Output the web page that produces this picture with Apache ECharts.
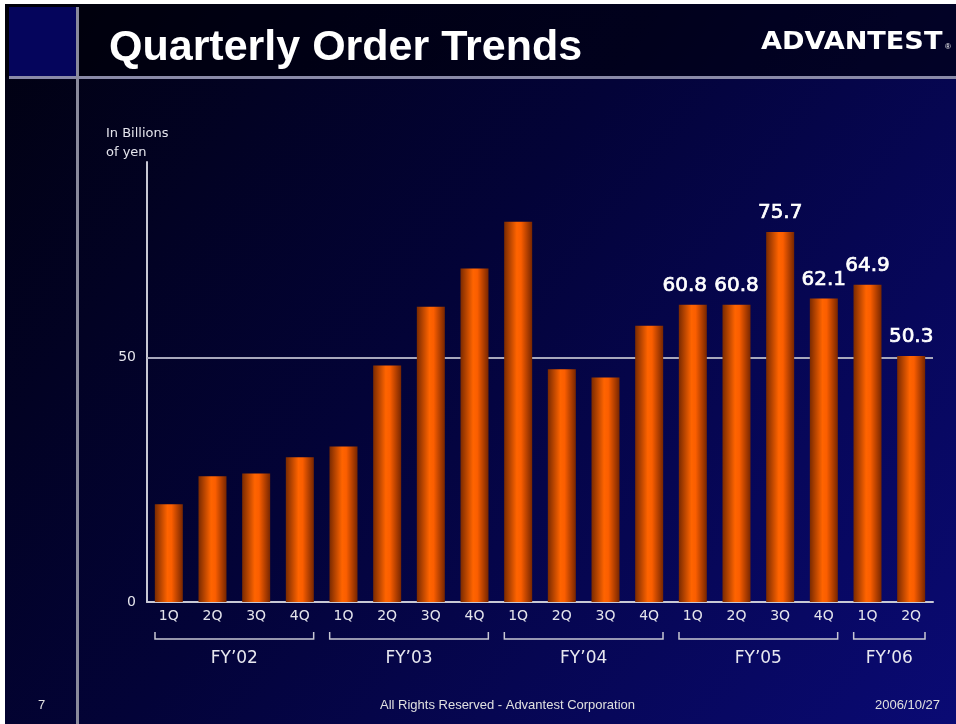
<!DOCTYPE html>
<html>
<head>
<meta charset="utf-8">
<script src="https://cdn.jsdelivr.net/npm/echarts@6/dist/echarts.min.js"></script>
<style>
  html, body { margin: 0; padding: 0; background: #02021a; }
  #chart { width: 956px; height: 724px; }
</style>
</head>
<body>
<div id="chart"></div>
<script>
// quarterly orders, billions of yen
const quarters = ['1Q', '2Q', '3Q', '4Q', '1Q', '2Q', '3Q', '4Q', '1Q', '2Q', '3Q', '4Q', '1Q', '2Q', '3Q', '4Q', '1Q', '2Q']
const orders = [20.0, 25.7, 26.3, 29.6, 31.8, 48.4, 60.4, 68.2, 77.8, 47.6, 45.9, 56.5, 60.8, 60.8, 75.7, 62.1, 64.9, 50.3]
// only the latest six quarters carry a value label
const labelFrom = 12
// fiscal year groups: [first index, last index]
const fyNames = ["FY’02", "FY’03", "FY’04", "FY’05", "FY’06"]
const fyRanges = [[0, 3], [4, 7], [8, 11], [12, 15], [16, 17]]
const yTicks = [0, 50]

const font = '"DejaVu Sans", "Noto Sans", sans-serif'
const arial = '"Liberation Sans", Arial, sans-serif'
const chart = echarts.init(document.getElementById('chart'))

const barColor = new echarts.graphic.LinearGradient(0, 0, 1, 0, [
  { offset: 0, color: '#7a2a00' },
  { offset: 0.45, color: '#ff6400' },
  { offset: 0.6, color: '#fb5e00' },
  { offset: 1, color: '#772600' }
])

// bracket + FY label below the category axis
const renderGroup = (params, api) => {
  const a = api.coord([api.value(0), 0])
  const b = api.coord([api.value(1), 0])
  const band = api.size([1, 0])[0]
  const x0 = a[0] - band / 2 + 8
  const x1 = b[0] + band / 2 - 8
  const y = a[1] + 37
  return {
    type: 'group',
    children: [
      {
        type: 'polyline',
        shape: { points: [[x0, y - 7], [x0, y], [x1, y], [x1, y - 7]] },
        style: { stroke: '#c8c8d4', lineWidth: 1.5, fill: null }
      },
      {
        type: 'text',
        x: (x0 + x1) / 2,
        y: y + 20,
        style: {
          text: fyNames[params.dataIndex],
          fill: '#e8e8f0',
          font: '17px ' + font,
          align: 'center',
          verticalAlign: 'middle'
        }
      }
    ]
  }
}

chart.setOption({
  animation: false,
  backgroundColor: new echarts.graphic.LinearGradient(0, 0, 1, 1, [
    { offset: 0, color: '#010110' },
    { offset: 0.45, color: '#030338' },
    { offset: 1, color: '#0a0a74' }
  ]),
  graphic: [
    // slide frame
    { type: 'rect', left: 0, top: 0, shape: { width: 956, height: 77 }, style: { fill: 'rgba(0,0,8,0.55)' }, z: -1 },
    { type: 'rect', left: 9, top: 7, shape: { width: 67, height: 70 }, style: { fill: '#05055c' }, z: -1 },
    { type: 'rect', left: 0, top: 0, shape: { width: 956, height: 4 }, style: { fill: '#ffffff' } },
    { type: 'rect', left: 0, top: 0, shape: { width: 5, height: 724 }, style: { fill: '#ffffff' } },
    { type: 'rect', left: 9, top: 76, shape: { width: 947, height: 3 }, style: { fill: '#8a8aa8' } },
    { type: 'rect', left: 76, top: 7, shape: { width: 3, height: 717 }, style: { fill: '#8a8a9c' } },
    {
      type: 'text', left: 109, top: 27,
      style: {
        text: 'Quarterly Order Trends', fill: '#ffffff',
        font: 'bold 43px ' + arial,
        textShadowColor: '#5a5a6a', textShadowOffsetX: 2, textShadowOffsetY: 2, textShadowBlur: 0
      }
    },
    {
      type: 'text', x: 761, y: 31, scaleX: 1.13,
      style: { text: 'ADVANTEST', fill: '#ffffff', font: 'bold 24px ' + font }
    },
    {
      type: 'text', left: 945, top: 43,
      style: { text: '®', fill: '#ffffff', font: '8px ' + arial }
    },
    {
      type: 'text', left: 106, top: 124,
      style: { text: 'In Billions\nof yen', fill: '#e4e4ec', font: '13px ' + font, lineHeight: 19 }
    },
    { type: 'text', left: 38, top: 699, style: { text: '7', fill: '#e0e0e0', font: '13px ' + arial } },
    {
      type: 'text', left: 380, top: 699,
      style: { text: 'All Rights Reserved - Advantest Corporation', fill: '#e0e0e0', font: '13px ' + arial }
    },
    { type: 'text', right: 16, top: 699, style: { text: '2006/10/27', fill: '#e0e0e0', font: '13px ' + arial } }
  ],
  grid: { left: 147, right: 23, top: 162, bottom: 122 },
  xAxis: {
    type: 'category',
    data: quarters,
    axisLine: { lineStyle: { color: '#c8c8d4', width: 2 } },
    axisTick: { show: false },
    axisLabel: { color: '#e4e4ec', fontSize: 14, fontFamily: font, margin: 7 }
  },
  yAxis: {
    type: 'value',
    min: 0,
    max: 90,
    interval: 50,
    axisLine: { show: true, lineStyle: { color: '#c8c8d4', width: 2 } },
    axisTick: { show: false },
    splitLine: { show: false },
    axisLabel: {
      color: '#e4e4ec', fontSize: 14, fontFamily: font, margin: 11,
      formatter: (v) => (yTicks.includes(v) ? String(v) : '')
    }
  },
  series: [
    {
      type: 'bar',
      data: orders.map((v, i) => ({
        value: v,
        // first FY'05 label is nudged left so it clears its neighbour
        label: { show: i >= labelFrom, offset: i === labelFrom ? [-8, 0] : [0, 0] }
      })),
      barWidth: 28,
      itemStyle: { color: barColor },
      label: {
        position: 'top',
        distance: 9,
        color: '#ffffff',
        fontSize: 20,
        fontFamily: font,
        textBorderColor: '#ffffff',
        textBorderWidth: 0.7,
        formatter: (p) => p.value.toFixed(1)
      },
      markLine: {
        silent: true,
        symbol: 'none',
        label: { show: false },
        lineStyle: { color: '#a8a8bc', type: 'solid', width: 2 },
        data: [{ yAxis: 50 }],
        z: 1
      },
      z: 3
    },
    {
      type: 'custom',
      data: fyRanges,
      renderItem: renderGroup,
      clip: false,
      silent: true
    }
  ]
})
</script>
</body>
</html>
